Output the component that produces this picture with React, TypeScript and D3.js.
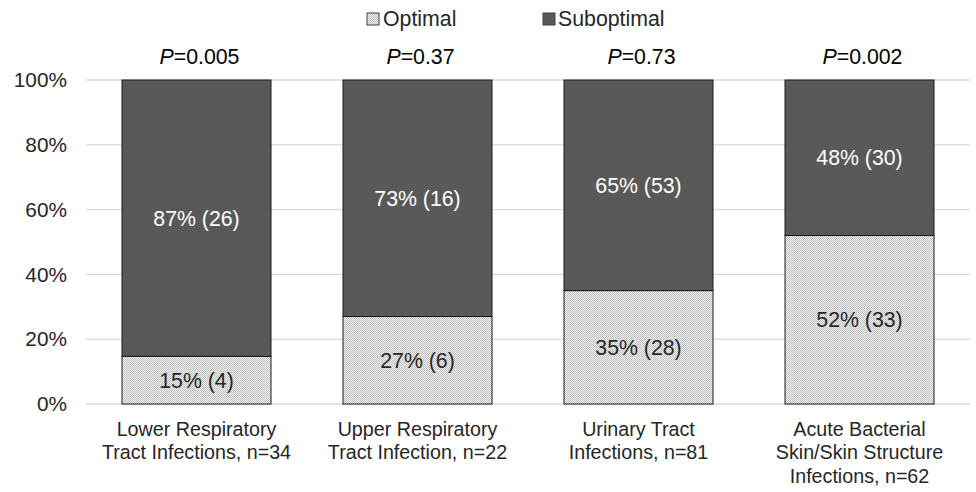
import React from "react";
import * as d3 from "d3";

const categories = [
  ["Lower Respiratory", "Tract Infections, n=34"],
  ["Upper Respiratory", "Tract Infection, n=22"],
  ["Urinary Tract", "Infections, n=81"],
  ["Acute Bacterial", "Skin/Skin Structure", "Infections, n=62"],
];
const optimalPct = [15, 27, 35, 52];
const optimalN = [4, 6, 28, 33];
const suboptimalPct = [87, 73, 65, 48];
const suboptimalN = [26, 16, 53, 30];
const pValues = ["0.005", "0.37", "0.73", "0.002"];
const yTicks = [0, 0.2, 0.4, 0.6, 0.8, 1];

const W = 976, H = 492;
const font = "'Liberation Sans', Arial, sans-serif";
const FS = 21.3;
const FS_TICK = 20.8;
const FS_CAT = 19.7;

export default function App() {
  const x = d3.scaleBand<number>().domain(d3.range(categories.length)).range([86, 970]).paddingInner(72 / 221).paddingOuter(36 / 221);
  const y = d3.scaleLinear().domain([0, 1]).range([404, 80]);
  const rows = optimalPct.map((o, i) => ({ i, optimal: o, suboptimal: suboptimalPct[i] }));
  const stack = d3.stack<any>().keys(["optimal", "suboptimal"]).offset(d3.stackOffsetExpand);
  const series = stack(rows);
  const bw = x.bandwidth();
  return (
    <svg width={W} height={H} style={{ position: "absolute", left: 0, top: 0, background: "#fff" }} fontFamily={font}>
      <defs>
        <pattern id="dots" width="2" height="2" patternUnits="userSpaceOnUse">
          <rect width="2" height="2" fill="#f4f4f4" />
          <rect x="0" y="0" width="1" height="1" fill="#bdbdbd" />
          <rect x="1" y="1" width="1" height="1" fill="#bdbdbd" />
        </pattern>
      </defs>
      {yTicks.map((t) => (
        <g key={t}>
          <line x1={86} x2={970} y1={y(t)} y2={y(t)} stroke="#d9d9d9" strokeWidth={1.3} />
          <text x={67} y={y(t)} dy="0.35em" textAnchor="end" fontSize={FS_TICK} fill="#262626">{Math.round(t * 100)}%</text>
        </g>
      ))}
      {series.map((s, si) =>
        s.map((d, i) => {
          const x0 = x(i)!;
          const y0 = y(d[1]);
          const h = y(d[0]) - y(d[1]);
          const pct = si === 0 ? optimalPct[i] : suboptimalPct[i];
          const n = si === 0 ? optimalN[i] : suboptimalN[i];
          return (
            <g key={`${si}-${i}`}>
              <rect x={x0} y={y0} width={bw} height={h} fill={si === 0 ? "url(#dots)" : "#595959"} stroke="#1a1a1a" strokeWidth={1} />
              <text x={x0 + bw / 2} y={y0 + h / 2} dy="0.35em" textAnchor="middle" fontSize={FS} fill={si === 0 ? "#262626" : "#ffffff"}>
                {`${pct}% (${n})`}
              </text>
            </g>
          );
        })
      )}
      {pValues.map((p, i) => (
        <text key={i} x={x(i)! + bw / 2 + 3} y={57} dy="0.35em" textAnchor="middle" fontSize={FS} fill="#000">
          <tspan fontStyle="italic">P</tspan>={p}
        </text>
      ))}
      {categories.map((lines, i) => (
        <text key={i} x={x(i)! + bw / 2} y={429} textAnchor="middle" fontSize={FS_CAT} fill="#262626">
          {lines.map((l, k) => (
            <tspan key={k} x={x(i)! + bw / 2} y={429 + k * 23.5} dy="0.35em">{l}</tspan>
          ))}
        </text>
      ))}
      <g>
        <rect x={367} y={13} width={12} height={12} fill="url(#dots)" stroke="#404040" strokeWidth={1} />
        <text x={383} y={19} dy="0.35em" fontSize={FS} fill="#262626">Optimal</text>
        <rect x={543} y={13} width={12} height={12} fill="#595959" stroke="#404040" strokeWidth={1} />
        <text x={558} y={19} dy="0.35em" fontSize={FS} fill="#262626">Suboptimal</text>
      </g>
    </svg>
  );
}
